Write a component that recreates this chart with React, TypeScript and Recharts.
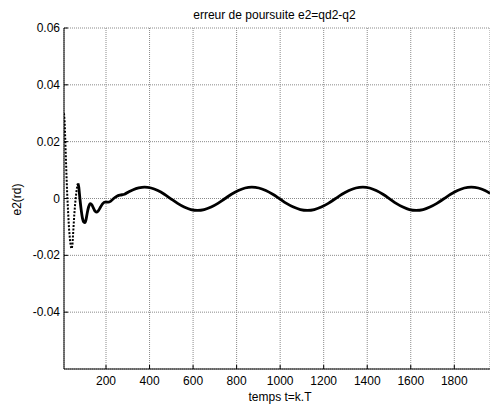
import React from 'react';
import { LineChart, Line, XAxis, YAxis, CartesianGrid } from 'recharts';

// sample index k and tracking error e2 (rad)
const transientK = [7, 10, 14, 18, 22, 26, 30, 35, 40, 43, 46, 50, 54, 58, 62, 66, 71];
const transientE = [0.030, 0.027, 0.018, 0.009, 0.001, -0.005, -0.0105, -0.015, -0.0175, -0.0176, -0.016, -0.011, -0.006, -0.002, 0.001, 0.0035, 0.0053];

const mainK = [
  71, 75, 80, 86, 92, 98, 103, 108, 114, 120, 128, 135, 143, 150, 158, 166, 175, 185, 195, 210, 222, 235, 250, 265, 285, 305, 325, 350,
  377, 407, 438, 468, 498, 529, 559, 590, 620,
  651, 683, 714, 745, 776, 808, 839, 870,
  902, 934, 966, 998, 1029, 1061, 1093, 1125,
  1157, 1189, 1221, 1253, 1284, 1316, 1348, 1380,
  1411, 1441, 1472, 1503, 1533, 1564, 1594, 1625,
  1657, 1688, 1720, 1752, 1783, 1815, 1846, 1878,
  1910, 1941, 1964,
];
const mainE = [
  0.0053, 0.004, 0.0, -0.004, -0.007, -0.0083, -0.0085, -0.0075, -0.005, -0.003, -0.0018, -0.0022, -0.0035, -0.0045, -0.0048, -0.0042, -0.003, -0.0018, -0.0013, -0.0013, -0.0009, 0.0, 0.0008, 0.0012, 0.0015, 0.0024, 0.0031, 0.0037,
  0.0040, 0.0037, 0.0028, 0.0015, -0.0001, -0.0017, -0.0030, -0.0039, -0.0042,
  -0.0039, -0.0030, -0.0017, -0.0001, 0.0015, 0.0028, 0.0037, 0.0040,
  0.0037, 0.0028, 0.0015, -0.0001, -0.0017, -0.0030, -0.0039, -0.0042,
  -0.0039, -0.0030, -0.0017, -0.0001, 0.0015, 0.0028, 0.0037, 0.0040,
  0.0037, 0.0028, 0.0015, -0.0001, -0.0017, -0.0030, -0.0039, -0.0042,
  -0.0039, -0.0030, -0.0017, -0.0001, 0.0015, 0.0028, 0.0037, 0.0040,
  0.0037, 0.0028, 0.0018,
];

const xTicks = [200, 400, 600, 800, 1000, 1200, 1400, 1600, 1800];
const yTicks = [-0.04, -0.02, 0, 0.02, 0.04, 0.06];

const FONT = '"Liberation Sans", Arial, Helvetica, sans-serif';

const transientData = transientK.map((k, i) => ({ k, e: transientE[i] }));
const mainData = mainK.map((k, i) => ({ k, e: mainE[i] }));

const YTick = (props: any) => {
  const { x, y, payload } = props;
  return (
    <g>
      <line x1={x + 4} x2={x + 8} y1={y} y2={y} stroke="#000" />
      <text x={x} y={y} dy={4} textAnchor="end" fontSize={12} fontFamily={FONT} fill="#000">
        {String(payload.value)}
      </text>
    </g>
  );
};

const XTick = (props: any) => {
  const { x, y, payload } = props;
  return (
    <g>
      <line x1={x} x2={x} y1={y} y2={y - 4} stroke="#000" />
      <text x={x} y={y + 16} textAnchor="middle" fontSize={12} fontFamily={FONT} fill="#000">
        {String(payload.value)}
      </text>
    </g>
  );
};

export default function App() {
  return (
    <div style={{ position: 'absolute', left: 0, top: 0, width: 490, height: 410, background: '#fff' }}>
      <LineChart width={490} height={410} margin={{ top: 28, right: 0, left: 0, bottom: 0 }}>
        <CartesianGrid stroke="#8a8a8a" strokeDasharray="1 1" />
        <XAxis
          dataKey="k"
          type="number"
          domain={[7, 1964]}
          ticks={xTicks}
          interval={0}
          height={41}
          tickSize={0}
          tickMargin={0}
          tick={<XTick />}
          axisLine={{ stroke: '#000' }}
          allowDataOverflow
        />
        <YAxis
          type="number"
          domain={[-0.06, 0.06]}
          ticks={yTicks}
          interval={0}
          width={64}
          tickSize={0}
          tickMargin={4}
          tick={<YTick />}
          axisLine={{ stroke: '#000' }}
          allowDataOverflow
        />
        <Line
          data={transientData}
          dataKey="e"
          type="linear"
          stroke="#000"
          strokeWidth={2}
          strokeDasharray="2 1.5"
          dot={false}
          isAnimationActive={false}
        />
        <Line
          data={mainData}
          dataKey="e"
          type="monotone"
          stroke="#000"
          strokeWidth={2.8}
          dot={false}
          isAnimationActive={false}
        />
      </LineChart>
      <svg width={490} height={410} style={{ position: 'absolute', left: 0, top: 0, pointerEvents: 'none' }}>
        <text x={274.5} y={19} textAnchor="middle" fontSize={12} fontFamily={FONT} fill="#000">
          erreur de poursuite e2=qd2-q2
        </text>
        <text x={280} y={401} textAnchor="middle" fontSize={12} fontFamily={FONT} fill="#000">
          temps t=k.T
        </text>
        <text x={21} y={199.5} transform="rotate(-90 21 199.5)" textAnchor="middle" fontSize={12} fontFamily={FONT} fill="#000">
          e2(rd)
        </text>
      </svg>
    </div>
  );
}
